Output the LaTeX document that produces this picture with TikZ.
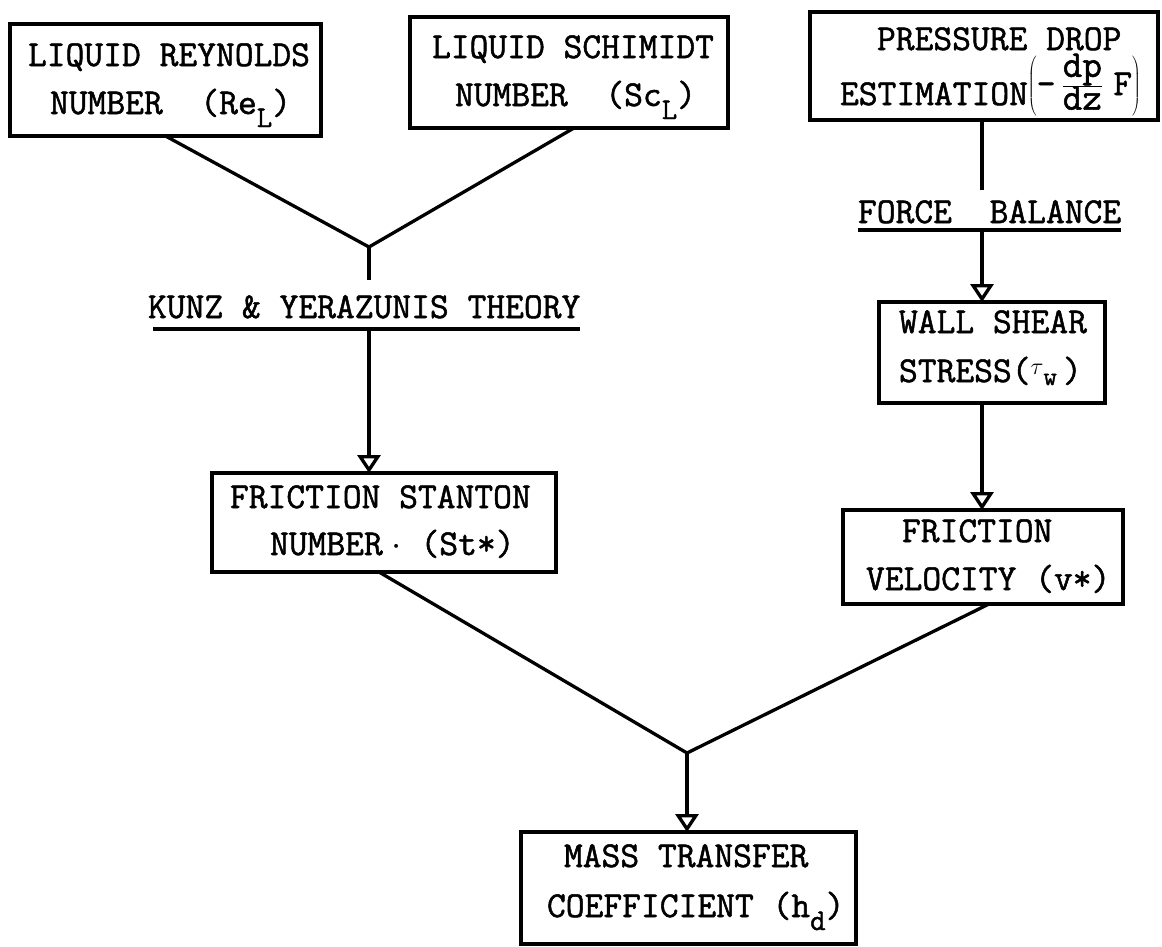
\RequirePackage{fix-cm}
\documentclass[tikz,border=0pt]{standalone}
\usepackage{fontspec}
\setmonofont[FakeBold=1.4]{Latin Modern Mono}
\usetikzlibrary{arrows.meta}
\newcommand{\lsub}[1]{\raisebox{-13pt}{\fontsize{30}{30}\selectfont #1}}
\newcommand{\fr}[1]{\mbox{\fontsize{38}{38}\selectfont\ttfamily #1}}
\begin{document}
\begin{tikzpicture}[x=1pt,y=-1pt,
  bx/.style={draw, line width=3.6pt, rectangle, inner sep=0pt, outer sep=0pt},
  tx/.style={anchor=base west, inner sep=0pt, outer sep=0pt, font=\fontsize{36.5}{44}\selectfont\ttfamily},
  ln/.style={line width=3.3pt, line join=miter},
  arr/.style={ln, -{Triangle[open, length=18pt, width=23pt]}}]
\useasboundingbox (0,0) rectangle (1162,946);

% boxes
\node[bx, minimum width=311pt, minimum height=112pt] (re) at (165.5,80) {};
\node[bx, minimum width=318pt, minimum height=111pt] (sc) at (569,72.5) {};
\node[bx, minimum width=348pt, minimum height=108pt] (pd) at (984,66) {};
\node[bx, minimum width=344pt, minimum height=99pt] (st) at (384,522.5) {};
\node[bx, minimum width=226pt, minimum height=101pt] (ws) at (992,352.5) {};
\node[bx, minimum width=280pt, minimum height=94pt] (ve) at (983,557) {};
\node[bx, minimum width=335pt, minimum height=112pt] (mt) at (688.5,888) {};

% texts
\node[tx] (re1) at (28,66) {LIQUID REYNOLDS};
\node[tx] (re2) at (50,114) {NUMBER~~(Re\lsub{L})};
\node[tx] (sc1) at (432,58) {LIQUID SCHIMIDT};
\node[tx] (sc2) at (455,106) {NUMBER~~(Sc\lsub{L})};
\node[tx] (pd1) at (877,50) {PRESSURE DROP};
\node[tx] (pd2) at (840,105) {ESTIMATION\raisebox{10pt}{$\left(\vrule height 34pt depth 18pt width 0pt\mbox{-}\,\frac{\fr{dp}}{\fr{dz}}\;\mbox{F}\right)$}};
\node[tx] (kz) at (148,318) {KUNZ \& YERAZUNIS THEORY};
\node[tx] (fb) at (858,223) {FORCE~~BALANCE};
\node[tx] (st1) at (230,508) {FRICTION STANTON};
\node[tx] (st2) at (270,555) {NUMBER\makebox[19pt][r]{$\cdot$}~(St*)};
\node[tx] (ws1) at (899,333) {WALL SHEAR};
\node[tx] (ws2) at (899,382) {STRESS(\raisebox{8pt}{\fontsize{24}{24}\selectfont$\tau$}\raisebox{-3pt}{\fontsize{26}{26}\selectfont w}\,)};
\node[tx] (ve1) at (902,542) {FRICTION};
\node[tx] (ve2) at (866,590) {VELOCITY (v*)};
\node[tx] (mt1) at (564,867) {MASS TRANSFER};
\node[tx] (mt2) at (547,917) {COEFFICIENT (h\lsub{d})};

% junctions and line ends
\coordinate (j1) at (369,247);
\coordinate (k1) at (369,280);
\coordinate (k2) at (369,329);
\coordinate (j2) at (687,753);
\coordinate (f1) at (982,190);
\coordinate (f2) at (982,230);

% underlines
\draw[ln] ([xshift=5pt,yshift=-11pt]kz.base west) -- ([yshift=-11pt]kz.base east);
\draw[ln] ([yshift=-7pt]fb.base west) -- ([yshift=-7pt]fb.base east);

% connectors
\draw[ln] (re.south) -- (j1) -- ([xshift=5pt]sc.south);
\draw[ln] (j1) -- (k1);
\draw[arr] (k2) -- (st.north -| k2);
\draw[ln] ([xshift=-5pt]st.south) -- (j2) -- ([xshift=6pt]ve.south);
\draw[arr] (j2) -- (mt.north -| j2);
\draw[ln] (pd.south -| f1) -- (f1);
\draw[arr] (f2) -- (ws.north -| f2);
\draw[arr] (ws.south -| f2) -- (ve.north -| f2);
\end{tikzpicture}
\end{document}
